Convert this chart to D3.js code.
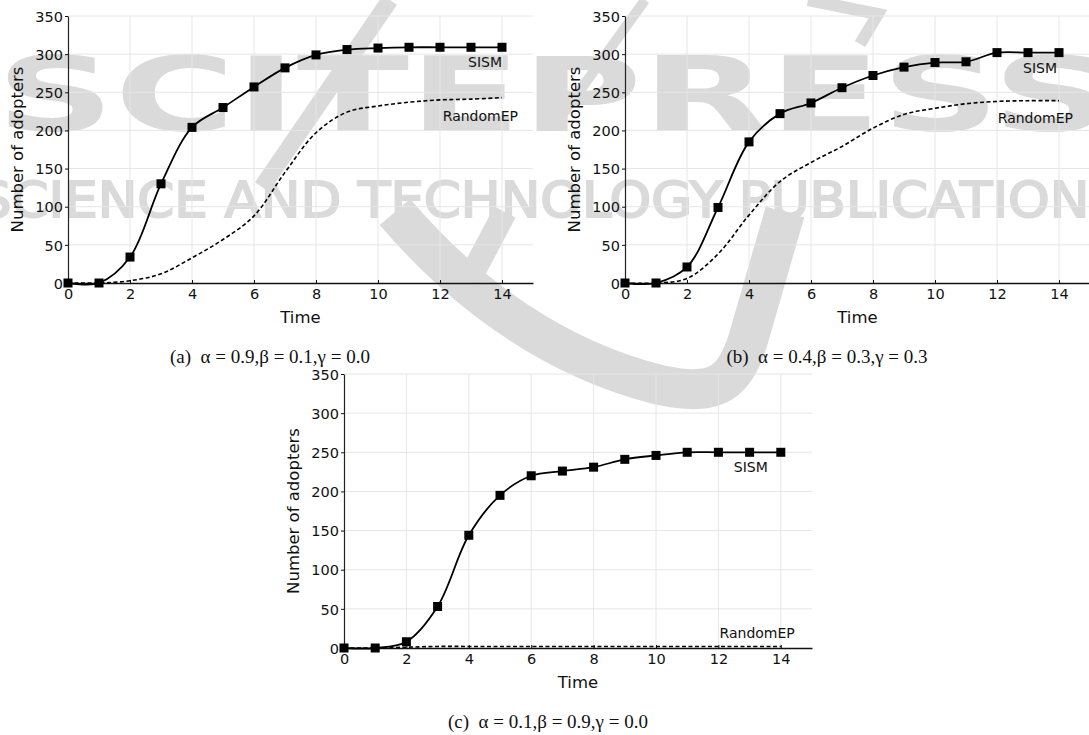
<!DOCTYPE html>
<html>
<head>
<meta charset="utf-8">
<script src="https://cdn.jsdelivr.net/npm/d3@7"></script>
<style>
  html, body { margin: 0; padding: 0; background: #fff; }
  svg { display: block; }
  text { font-family: "DejaVu Sans", Verdana, sans-serif; }
</style>
</head>
<body>
<div id="chart"></div>
<script>
(function(){
    // ---- data ----
    const times = [0, 1, 2, 3, 4, 5, 6, 7, 8, 9, 10, 11, 12, 13, 14];

    const sismA   = [0, 0, 34, 130, 204, 230, 257, 282, 299, 306, 308, 309, 309, 309, 309];
    const randomA = [0, 0, 3, 12, 33, 57, 88, 145, 197, 224, 232, 237, 240, 241, 243];

    const sismB   = [0, 0, 21, 99, 185, 222, 236, 256, 272, 283, 289, 290, 302, 302, 302];
    const randomB = [0, 0, 6, 38, 89, 133, 158, 179, 203, 221, 229, 235, 238, 239, 239];

    const sismC   = [0, 0, 8, 53, 144, 195, 220, 226, 231, 241, 246, 250, 250, 250, 250];
    const randomC = [0, 0, 1, 2, 2, 2, 2, 2, 2, 2, 2, 2, 2, 2, 2];

    const xTicks = [0, 2, 4, 6, 8, 10, 12, 14];
    const yTicks = [0, 50, 100, 150, 200, 250, 300, 350];
    const seriesNames = ["SISM", "RandomEP"];
    const captions = [
        "(a)\u00a0\u00a0\u03b1\u00a0=\u00a00.9,\u03b2\u00a0=\u00a00.1,\u03b3\u00a0=\u00a00.0",
        "(b)\u00a0\u00a0\u03b1\u00a0=\u00a00.4,\u03b2\u00a0=\u00a00.3,\u03b3\u00a0=\u00a00.3",
        "(c)\u00a0\u00a0\u03b1\u00a0=\u00a00.1,\u03b2\u00a0=\u00a00.9,\u03b3\u00a0=\u00a00.0"
    ];

    // ---- layout of the three panels ----
    const panels = [
        {left: 68,  right: 533,  top: 16,  bottom: 283, sism: sismA, rand: randomA, caption: captions[0],
         capX: 270, capY: 363, sismLab: [0, 15], randLab: [16, 18]},
        {left: 625, right: 1090, top: 16,  bottom: 283, sism: sismB, rand: randomB, caption: captions[1],
         capX: 827, capY: 363, sismLab: [-2, 15], randLab: [14, 17]},
        {left: 344, right: 812,  top: 374, bottom: 648, sism: sismC, rand: randomC, caption: captions[2],
         capX: 548, capY: 728, sismLab: [-13, 15], randLab: [14, -13]}
    ];

    const W = 1089, H = 735;
    const svg = d3.select("#chart").append("svg")
        .attr("width", W)
        .attr("height", H);

    // ---- faint publisher watermark ----
    const wmColor = "#dadada";
    const wm = svg.append("g").attr("fill", wmColor).attr("stroke", wmColor);
    wm.append("path")
        .attr("d", "M390,0 L262,187")
        .attr("fill", "none").attr("stroke-width", 17);
    wm.append("path")
        .attr("d", "M645,0 L555,125")
        .attr("fill", "none").attr("stroke-width", 10);
    wm.append("path")
        .attr("d", "M808,0 L878,14 L860,44")
        .attr("fill", "none").attr("stroke-width", 12);
    wm.append("path")
        .attr("d", "M395,212 C470,300 560,360 660,385 C720,398 735,380 748,340 L785,212")
        .attr("fill", "none").attr("stroke-width", 40).attr("stroke-linejoin", "round");
    wm.append("path")
        .attr("d", "M505,212 L468,282")
        .attr("fill", "none").attr("stroke-width", 24);
    wm.append("text")
        .attr("x", -4).attr("y", 131)
        .attr("stroke", "none")
        .attr("textLength", 1115).attr("lengthAdjust", "spacingAndGlyphs")
        .style("font-size", "103px").style("font-weight", "bold")
        .text("SCITEPRESS");
    wm.append("text")
        .attr("x", -22).attr("y", 217)
        .attr("stroke-width", 2)
        .attr("textLength", 1145).attr("lengthAdjust", "spacingAndGlyphs")
        .style("font-size", "50px")
        .text("SCIENCE AND TECHNOLOGY PUBLICATIONS");

    panels.forEach(function(p) {
        const x = d3.scaleLinear().domain([0, 15]).range([p.left, p.right]);
        const y = d3.scaleLinear().domain([0, 350]).range([p.bottom, p.top]);
        const g = svg.append("g");

        // grid
        g.selectAll(".vgrid")
            .data(xTicks.filter(function(d) { return d > 0; }))
            .enter().append("line")
            .attr("x1", function(d) { return x(d); })
            .attr("x2", function(d) { return x(d); })
            .attr("y1", y(0)).attr("y2", y(350))
            .attr("stroke", "#e6e6e6").attr("stroke-width", 1);
        g.selectAll(".hgrid")
            .data(yTicks.filter(function(d) { return d > 0; }))
            .enter().append("line")
            .attr("x1", x(0)).attr("x2", x(15))
            .attr("y1", function(d) { return y(d); })
            .attr("y2", function(d) { return y(d); })
            .attr("stroke", "#e6e6e6").attr("stroke-width", 1);

        // axes
        const xAxis = g.append("g")
            .attr("transform", "translate(0," + p.bottom + ")")
            .call(d3.axisBottom(x).tickValues(xTicks).tickSize(-3).tickPadding(6).tickSizeOuter(0));
        const yAxis = g.append("g")
            .attr("transform", "translate(" + p.left + ",0)")
            .call(d3.axisLeft(y).tickValues(yTicks).tickSize(3).tickPadding(2).tickSizeOuter(0));
        [xAxis, yAxis].forEach(function(a) {
            a.selectAll("text")
                .attr("fill", "#111")
                .style("font-size", "14.5px")
                .style("font-family", "'DejaVu Sans', sans-serif");
            a.selectAll("line").attr("stroke", "#111");
        });
        xAxis.select(".domain").attr("stroke", "#111").attr("stroke-width", 1.5);
        yAxis.select(".domain").attr("stroke", "#222").attr("stroke-width", 1.2);
        yAxis.selectAll("text").attr("dy", "0.36em");

        // axis titles
        g.append("text")
            .attr("x", x(7.5)).attr("y", p.bottom + 40)
            .attr("text-anchor", "middle")
            .style("font-size", "16.5px").attr("fill", "#111")
            .text("Time");
        g.append("text")
            .attr("transform", "translate(" + (p.left - 45) + "," + ((p.top + p.bottom) / 2) + ") rotate(-90)")
            .attr("text-anchor", "middle")
            .style("font-size", "16.5px").attr("fill", "#111")
            .text("Number of adopters");

        const line = d3.line()
            .x(function(d, i) { return x(times[i]); })
            .y(function(d) { return y(d); })
            .curve(d3.curveCatmullRom.alpha(0.5));

        // RandomEP dashed
        g.append("path")
            .datum(p.rand)
            .attr("d", line)
            .attr("fill", "none")
            .attr("stroke", "#000")
            .attr("stroke-width", 1.6)
            .attr("stroke-dasharray", "4,2.5");

        // SISM solid with square markers
        g.append("path")
            .datum(p.sism)
            .attr("d", line)
            .attr("fill", "none")
            .attr("stroke", "#000")
            .attr("stroke-width", 1.8);
        g.selectAll(".mark")
            .data(p.sism)
            .enter().append("rect")
            .attr("x", function(d, i) { return x(times[i]) - 4.5; })
            .attr("y", function(d) { return y(d) - 4.5; })
            .attr("width", 9).attr("height", 9)
            .attr("fill", "#000");

        // series labels
        const last = times.length - 1;
        g.append("text")
            .attr("x", x(times[last]) + p.sismLab[0])
            .attr("y", y(p.sism[last]) + p.sismLab[1])
            .attr("dy", "0.36em")
            .attr("text-anchor", "end")
            .style("font-size", "14px").attr("fill", "#111")
            .text(seriesNames[0]);
        g.append("text")
            .attr("x", x(times[last]) + p.randLab[0])
            .attr("y", y(p.rand[last]) + p.randLab[1])
            .attr("dy", "0.36em")
            .attr("text-anchor", "end")
            .style("font-size", "14px").attr("fill", "#111")
            .text(seriesNames[1]);

        // caption (LaTeX-style, serif)
        g.append("text")
            .attr("x", p.capX).attr("y", p.capY)
            .attr("text-anchor", "middle")
            .style("font-family", "'Liberation Serif', 'Times New Roman', serif")
            .style("font-size", "19px").attr("fill", "#111")
            .text(p.caption);
    });
})();
</script>
</body>
</html>
